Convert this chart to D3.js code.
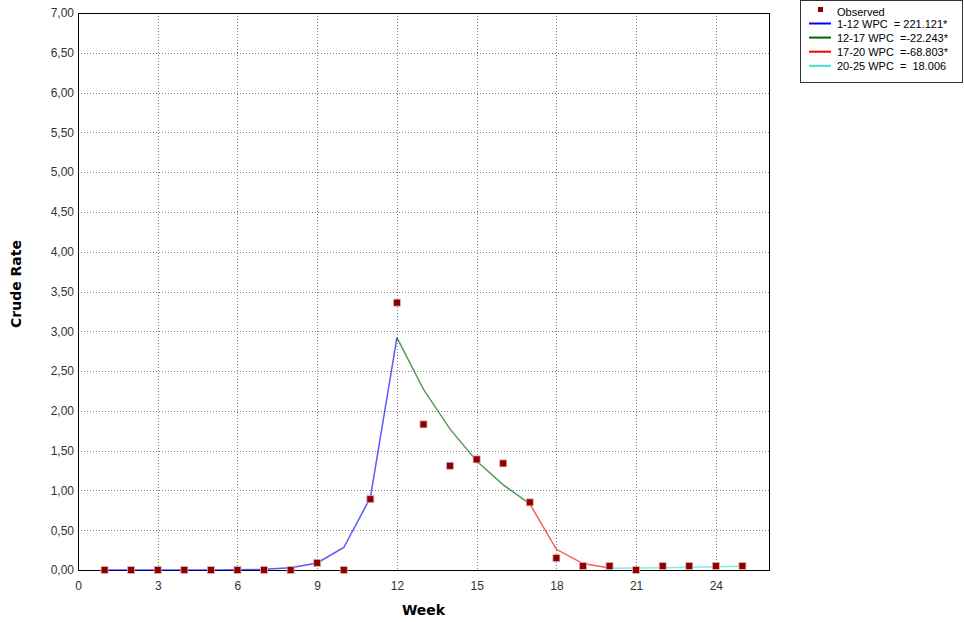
<!DOCTYPE html>
<html>
<head>
<meta charset="utf-8">
<script src="https://cdn.jsdelivr.net/npm/d3@7"></script>
<style>
  html, body { margin: 0; padding: 0; background: #fff; }
  svg { display: block; }
</style>
</head>
<body>
<svg id="chart" width="964" height="622"></svg>
<script>
// Observed weekly crude rates
const weeks = d3.range(1, 26);
const observed = [0, 0, 0, 0, 0, 0, 0, 0, 0.09, 0, 0.89, 3.36, 1.83, 1.31, 1.39, 1.34, 0.85, 0.15, 0.05, 0.05, 0, 0.05, 0.05, 0.05, 0.05];

// Fitted joinpoint segments
const seg1Weeks = d3.range(1, 13);
const seg1Values = [0.00001, 0.00003, 0.00008, 0.00026, 0.00083, 0.0027, 0.0086, 0.0275, 0.088, 0.283, 0.909, 2.92];
const seg2Weeks = d3.range(12, 18);
const seg2Values = [2.92, 2.27, 1.77, 1.37, 1.07, 0.83];
const seg3Weeks = d3.range(17, 21);
const seg3Values = [0.83, 0.26, 0.081, 0.025];
const seg4Weeks = d3.range(20, 26);
const seg4Values = [0.021, 0.025, 0.029, 0.035, 0.041, 0.048];

const segmentLabels = ["1-12 WPC  = 221.121*", "12-17 WPC  =-22.243*", "17-20 WPC  =-68.803*", "20-25 WPC  =  18.006"];
const segmentColors = ["#0000ff", "#006400", "#ff0000", "#40e0d0"];

const xTicks = [0, 3, 6, 9, 12, 15, 18, 21, 24];
const yTicks = d3.range(0, 7.01, 0.5);

const sans = "'Liberation Sans', Arial, sans-serif";
const boldFace = "'DejaVu Sans', Verdana, sans-serif";

const svg = d3.select("#chart");
const margin = { left: 78, top: 13, right: 769, bottom: 570 };

const x = d3.scaleLinear().domain([0, 26]).range([margin.left, margin.right]);
const y = d3.scaleLinear().domain([0, 7]).range([margin.bottom, margin.top]);

// grid
const grid = svg.append("g");
grid.selectAll("line.h").data(yTicks.slice(1)).join("line")
  .attr("x1", margin.left).attr("x2", margin.right)
  .attr("y1", d => Math.round(y(d)) + 0.5).attr("y2", d => Math.round(y(d)) + 0.5)
  .attr("stroke", "#808080").attr("stroke-dasharray", "1,2");
grid.selectAll("line.v").data(xTicks.slice(1)).join("line")
  .attr("y1", margin.top).attr("y2", margin.bottom)
  .attr("x1", d => Math.round(x(d)) + 0.5).attr("x2", d => Math.round(x(d)) + 0.5)
  .attr("stroke", "#808080").attr("stroke-dasharray", "1,2");

// plot frame
svg.append("rect")
  .attr("x", margin.left + 0.5).attr("y", margin.top + 0.5)
  .attr("width", margin.right - margin.left).attr("height", margin.bottom - margin.top)
  .attr("fill", "none").attr("stroke", "#000");

// axes
const fmt = d => d3.format(".2f")(d).replace(".", ",");
const yAxis = svg.append("g")
  .attr("transform", `translate(${margin.left},0)`)
  .call(d3.axisLeft(y).tickValues(yTicks).tickFormat(fmt).tickSize(0).tickPadding(4));
yAxis.select(".domain").remove();
yAxis.selectAll("text").attr("fill", "#333")
  .style("font-size", "12px").style("font-family", sans);

const xAxis = svg.append("g")
  .attr("transform", `translate(0,${margin.bottom})`)
  .call(d3.axisBottom(x).tickValues(xTicks).tickFormat(d3.format("d")).tickSize(0).tickPadding(11));
xAxis.select(".domain").remove();
xAxis.selectAll("text").attr("fill", "#333")
  .style("font-size", "12px").style("font-family", sans);

// axis titles
svg.append("text")
  .attr("x", (margin.left + margin.right) / 2).attr("y", 615)
  .attr("text-anchor", "middle").attr("fill", "#000")
  .style("font-weight", "bold").style("font-size", "14px").style("font-family", boldFace)
  .text("Week");
svg.append("text")
  .attr("transform", "translate(21,284) rotate(-90)")
  .attr("text-anchor", "middle").attr("fill", "#000")
  .style("font-weight", "bold").style("font-size", "14px").style("font-family", boldFace)
  .text("Crude Rate");

// fitted segments
const line = d3.line().x(d => x(d[0])).y(d => y(d[1]));
const segments = [
  d3.zip(seg1Weeks, seg1Values),
  d3.zip(seg2Weeks, seg2Values),
  d3.zip(seg3Weeks, seg3Values),
  d3.zip(seg4Weeks, seg4Values)
];
svg.append("g").selectAll("path").data(segments).join("path")
  .attr("d", line)
  .attr("fill", "none")
  .attr("stroke", (d, i) => segmentColors[i])
  .attr("stroke-opacity", 0.65)
  .attr("stroke-width", 1.5);

// observed markers
svg.append("g").selectAll("rect").data(d3.zip(weeks, observed)).join("rect")
  .attr("x", d => x(d[0]) - 3.5).attr("y", d => y(d[1]) - 3.5)
  .attr("width", 7).attr("height", 7)
  .attr("fill", "#8b0000")
  .attr("stroke", "#e8b0b0").attr("stroke-width", 0.8);

// legend
const legend = svg.append("g");
legend.append("rect")
  .attr("x", 800.5).attr("y", 0.5).attr("width", 162).attr("height", 82)
  .attr("fill", "#fff").attr("stroke", "#333");
legend.append("rect")
  .attr("x", 818).attr("y", 7).attr("width", 5).attr("height", 5)
  .attr("fill", "#8b0000");
legend.append("text")
  .attr("x", 837).attr("y", 15.5).attr("fill", "#000")
  .style("font-size", "11px").style("font-family", sans)
  .text("Observed");
const rows = legend.selectAll("g.row").data(segmentLabels).join("g")
  .attr("transform", (d, i) => `translate(0,${23.5 + i * 14.1})`);
rows.append("line")
  .attr("x1", 809).attr("x2", 831).attr("y1", 0).attr("y2", 0)
  .attr("stroke", (d, i) => segmentColors[i]).attr("stroke-width", 2);
rows.append("text")
  .attr("x", 837).attr("y", 4).attr("fill", "#000")
  .style("font-size", "11px").style("font-family", sans)
  .style("white-space", "pre")
  .text(d => d);
</script>
</body>
</html>
